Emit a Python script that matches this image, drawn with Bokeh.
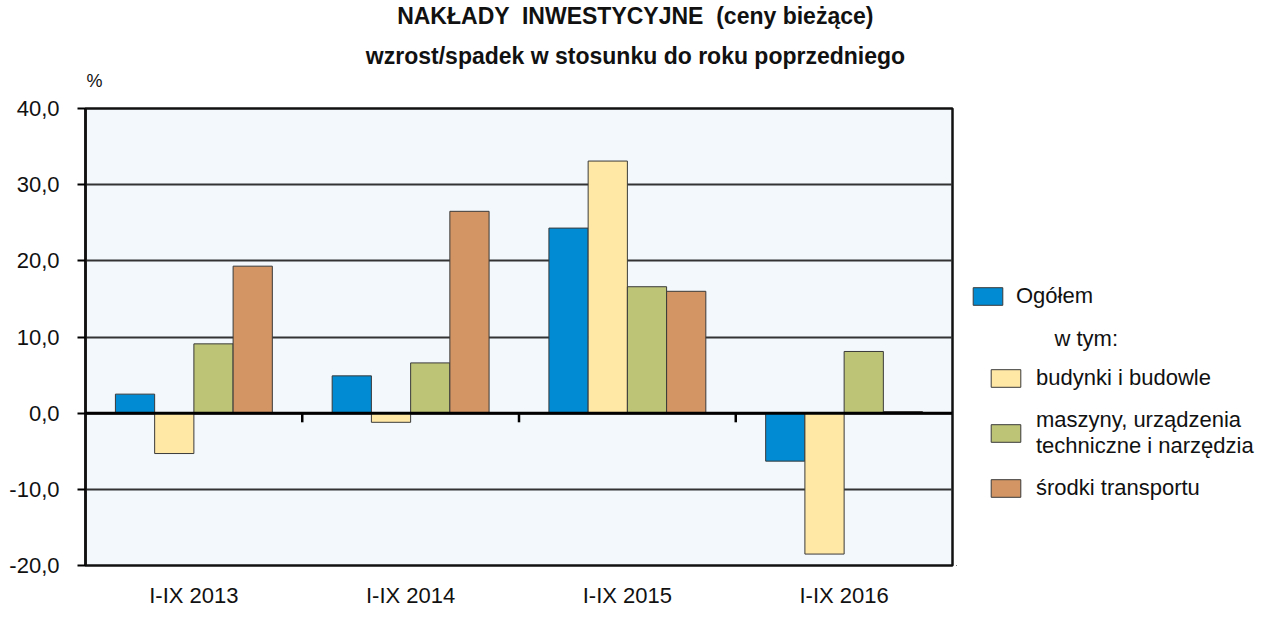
from bokeh.plotting import figure
from bokeh.models import (ColumnDataSource, FactorRange, FixedTicker, Span, Legend,
                          LegendItem, Label)
from bokeh.layouts import column, row
from bokeh.transform import dodge
from bokeh.embed import file_html
from bokeh.resources import INLINE

# ---- data ----
categories = ["I-IX 2013", "I-IX 2014", "I-IX 2015", "I-IX 2016"]
ogolem = [2.5, 4.9, 24.3, -6.3]
budynki = [-5.3, -1.2, 33.1, -18.5]
maszyny = [9.1, 6.6, 16.6, 8.1]
transport = [19.3, 26.5, 16.0, 0.2]
series_names = ["Ogółem", "budynki i budowle",
                "maszyny, urządzenia\ntechniczne i narzędzia", "środki transportu"]
colors = ["#008BD2", "#FFE8A5", "#BDC476", "#D29563"]
ytick_values = [-20, -10, 0, 10, 20, 30, 40]
ytick_labels = ["-20,0", "-10,0", "0,0", "10,0", "20,0", "30,0", "40,0"]
title1 = "NAKŁADY  INWESTYCYJNE  (ceny bieżące)"
title2 = "wzrost/spadek w stosunku do roku poprzedniego"
unit_label = "%"
subheading = "w tym:"

FONT = "Liberation Sans"
FS = "22px"
TXT = "#111111"


def blank(width, height):
    f = figure(width=width, height=height, output_backend="svg", toolbar_location=None,
               x_range=(0, 1), y_range=(0, 1), min_border=0)
    f.axis.visible = False
    f.grid.visible = False
    f.outline_line_color = None
    f.background_fill_color = "white"
    return f


# ---- title strip ----
tf = blank(1256, 94)
tf.add_layout(Label(x=635, y=79, x_units="screen", y_units="screen",
                    text=title1.replace("  ", " \u00a0"),
                    text_font=FONT, text_font_size="23px", text_font_style="bold",
                    text_align="center", text_baseline="middle", text_color=TXT))
tf.add_layout(Label(x=635, y=39, x_units="screen", y_units="screen", text=title2,
                    text_font=FONT, text_font_size="23px", text_font_style="bold",
                    text_align="center", text_baseline="middle", text_color=TXT))
tf.add_layout(Label(x=86, y=14, x_units="screen", y_units="screen", text=unit_label,
                    text_font=FONT, text_font_size="18px", text_color=TXT,
                    text_baseline="middle"))

# ---- main chart ----
src = ColumnDataSource(dict(cat=categories, s0=ogolem, s1=budynki, s2=maszyny, s3=transport))
bsrc = ColumnDataSource(dict(cat=categories[:-1], y0=[0] * 3, y1=[-1.2] * 3))

p = figure(width=956, height=516, x_range=FactorRange(*categories), y_range=(-20, 40),
           output_backend="svg", toolbar_location=None,
           min_border_left=85, min_border_right=4, min_border_top=14, min_border_bottom=42)
p.background_fill_color = "#F3F8FC"
p.border_fill_color = "white"
p.outline_line_color = "#111111"
p.outline_line_width = 2.5

p.yaxis.ticker = FixedTicker(ticks=ytick_values)
p.yaxis.major_label_overrides = {v: l for v, l in zip(ytick_values, ytick_labels)}
p.yaxis.major_label_text_font = FONT
p.yaxis.major_label_text_font_size = FS
p.yaxis.major_label_text_color = TXT
p.yaxis.axis_line_width = 2.5
p.yaxis.axis_line_color = "#111111"
p.yaxis.major_tick_in = 0
p.yaxis.major_tick_out = 8
p.yaxis.major_tick_line_width = 2
p.yaxis.minor_tick_line_color = None
p.yaxis.major_label_standoff = 18

p.xaxis.axis_line_color = None
p.xaxis.major_tick_line_color = None
p.xaxis.major_tick_out = 0
p.xaxis.major_tick_in = 0
p.xaxis.major_label_standoff = 17
p.xaxis.major_label_text_font = FONT
p.xaxis.major_label_text_font_size = FS
p.xaxis.major_label_text_color = TXT

p.xgrid.grid_line_color = None
p.ygrid.grid_line_color = "#333333"
p.ygrid.grid_line_width = 2

w = 0.181
offsets = [-1.5 * w, -0.5 * w, 0.5 * w, 1.5 * w]
for j in range(4):
    p.vbar(x=dodge("cat", offsets[j], range=p.x_range), top="s%d" % j, bottom=0, width=w,
           source=src, fill_color=colors[j], line_color="#3a3a3a", line_width=1)

p.add_layout(Span(location=0, dimension="width", line_color="black", line_width=3))
p.segment(x0=dodge("cat", 0.5, range=p.x_range), x1=dodge("cat", 0.5, range=p.x_range),
          y0="y0", y1="y1", source=bsrc, line_color="black", line_width=2.5)

# ---- legend panel (proxy glyphs lie outside the visible range) ----
lf = blank(300, 516)
proxy_src = ColumnDataSource(dict(x=[-5], top=[0]))
proxies = [lf.vbar(x="x", top="top", width=0.1, source=proxy_src, fill_color=c,
                   line_color="#3a3a3a", line_width=1) for c in colors]
common = dict(glyph_width=37, glyph_height=22, label_height=22,
              label_text_font=FONT, label_text_font_size=FS, label_text_color=TXT,
              border_line_color=None, background_fill_alpha=0, padding=0, margin=0)
leg1 = Legend(items=[LegendItem(label=series_names[0], renderers=[proxies[0]])],
              location=(13, 256), label_standoff=10, **common)
leg2 = Legend(items=[LegendItem(label=series_names[k], renderers=[proxies[k]]) for k in (1, 2, 3)],
              location=(31, 64), label_standoff=12, spacing=16,
              label_text_line_height=1.1, **common)
lf.add_layout(leg1, "center")
lf.add_layout(leg2, "center")
lf.add_layout(Label(x=98, y=227, x_units="screen", y_units="screen", text=subheading,
                    text_font=FONT, text_font_size=FS, text_color=TXT,
                    text_baseline="middle"))

layout = column(tf, row(p, lf))
open("out.html", "w").write(file_html(layout, INLINE))
